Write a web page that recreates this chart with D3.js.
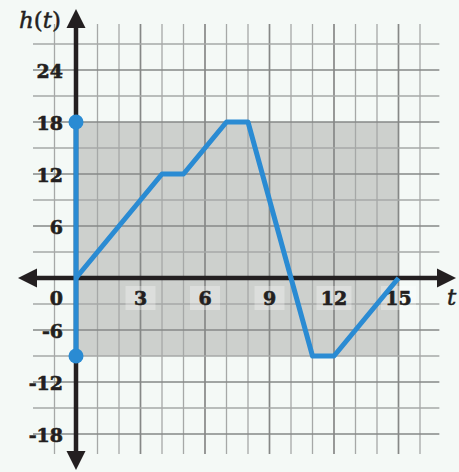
<!DOCTYPE html>
<html>
<head>
<meta charset="utf-8">
<script src="https://cdn.jsdelivr.net/npm/d3@7"></script>
<style>
  html, body { margin: 0; padding: 0; background: #f4f9f6; }
  svg { display: block; }
</style>
</head>
<body>
<svg id="chart" width="459" height="472"></svg>
<script>
// Piecewise-linear function h(t)
const tValues = [0, 4, 5, 7, 8, 11, 12, 15];
const hValues = [0, 12, 12, 18, 18, -9, -9, 0];
// Range of h shown on the vertical axis (closed endpoints)
const rangeEnds = [18, -9];
// Domain / range highlight box
const boxT = [0, 15];
const boxH = [-9, 18];
// Tick labels
const xTicks = [3, 6, 9, 12, 15];
const yTicks = [24, 18, 12, 6, -6, -12, -18];
// Grid extent
const gridT = [-2, 16.9];
const gridH = [-20.3, 29.3];

const W = 459, H = 472;
const svg = d3.select("#chart");

const x = d3.scaleLinear().domain([0, 15]).range([76, 398.5]);
const y = d3.scaleLinear().domain([0, 18]).range([278, 122]);

const blue = "#2a8bd3";
const ink = "#231f20";
const fontNum = "'DejaVu Serif', serif";

// highlight box
svg.append("rect")
  .attr("x", x(boxT[0])).attr("y", y(boxH[1]))
  .attr("width", x(boxT[1]) - x(boxT[0]))
  .attr("height", y(boxH[0]) - y(boxH[1]))
  .attr("fill", "#cdd0cd");

// grid: vertical lines every unit, darker every 3
const g = svg.append("g");
d3.range(-1, 17).forEach(t => {
  const major = t % 3 === 0;
  g.append("line")
    .attr("x1", x(t)).attr("x2", x(t))
    .attr("y1", y(gridH[1])).attr("y2", y(gridH[0]))
    .attr("stroke", major ? "#868887" : "#a6a8a7")
    .attr("stroke-width", major ? 1.7 : 1.3);
});
// horizontal lines every 3, darker every 6
d3.range(-18, 30, 3).forEach(h => {
  const major = h % 6 === 0;
  g.append("line")
    .attr("x1", x(gridT[0])).attr("x2", x(gridT[1]))
    .attr("y1", y(h)).attr("y2", y(h))
    .attr("stroke", major ? "#868887" : "#a6a8a7")
    .attr("stroke-width", major ? 1.7 : 1.3);
});

// axes with arrowheads
const axisW = 4.5;
svg.append("line")
  .attr("x1", 30).attr("x2", W - 14)
  .attr("y1", y(0)).attr("y2", y(0))
  .attr("stroke", ink).attr("stroke-width", axisW);
svg.append("line")
  .attr("x1", x(0)).attr("x2", x(0))
  .attr("y1", 22).attr("y2", H - 14)
  .attr("stroke", ink).attr("stroke-width", axisW);

function arrow(tipX, tipY, dir) {
  const L = 19, Hw = 9.5;
  let pts;
  if (dir === "left") pts = [[tipX, tipY], [tipX + L, tipY - Hw], [tipX + L, tipY + Hw]];
  if (dir === "right") pts = [[tipX, tipY], [tipX - L, tipY - Hw], [tipX - L, tipY + Hw]];
  if (dir === "up") pts = [[tipX, tipY], [tipX - Hw, tipY + L], [tipX + Hw, tipY + L]];
  if (dir === "down") pts = [[tipX, tipY], [tipX - Hw, tipY - L], [tipX + Hw, tipY - L]];
  svg.append("path").attr("d", "M" + pts.join("L") + "Z").attr("fill", ink);
}
arrow(18, y(0), "left");
arrow(456, y(0), "right");
arrow(x(0), 9, "up");
arrow(x(0), 470, "down");

function numLabel(sel) {
  return sel.attr("font-family", fontNum).attr("font-weight", "bold")
    .attr("font-size", 19).attr("fill", ink)
    .attr("stroke", ink).attr("stroke-width", 0.6)
    .attr("dominant-baseline", "central");
}

// x tick labels with light plates
xTicks.forEach(t => {
  const cx = x(t);
  const lw = String(t).length === 1 ? 30 : 35;
  svg.append("rect")
    .attr("x", cx - lw / 2).attr("y", 286)
    .attr("width", lw).attr("height", 24)
    .attr("fill", "#ffffff").attr("fill-opacity", 0.3);
  numLabel(svg.append("text"))
    .attr("x", cx).attr("y", 298)
    .attr("text-anchor", "middle")
    .text(t);
});
numLabel(svg.append("text"))
  .attr("x", 63).attr("y", 298)
  .attr("text-anchor", "end")
  .text("0");

// y tick labels
yTicks.forEach(h => {
  numLabel(svg.append("text"))
    .attr("x", 63).attr("y", y(h) + 1)
    .attr("text-anchor", "end")
    .text(h);
});

// axis titles
const hLab = svg.append("text")
  .attr("x", 19).attr("y", 28)
  .attr("font-family", fontNum).attr("font-style", "italic")
  .attr("font-size", 23).attr("fill", ink)
  .attr("stroke", ink).attr("stroke-width", 0.5);
hLab.append("tspan").text("h");
hLab.append("tspan").attr("font-style", "normal").text("(");
hLab.append("tspan").text("t");
hLab.append("tspan").attr("font-style", "normal").text(")");

svg.append("text")
  .attr("x", 447).attr("y", 305)
  .attr("font-family", fontNum).attr("font-style", "italic")
  .attr("font-size", 23).attr("fill", ink)
  .attr("stroke", ink).attr("stroke-width", 0.5)
  .text("t");

// range segment on the vertical axis
svg.append("line")
  .attr("x1", x(0)).attr("x2", x(0))
  .attr("y1", y(rangeEnds[0])).attr("y2", y(rangeEnds[1]))
  .attr("stroke", blue).attr("stroke-width", 5);

// function graph
const pts = tValues.map((t, i) => [t, hValues[i]]);
svg.append("path")
  .datum(pts)
  .attr("d", d3.line().x(d => x(d[0])).y(d => y(d[1])))
  .attr("fill", "none")
  .attr("stroke", blue).attr("stroke-width", 5)
  .attr("stroke-linejoin", "round");

// endpoints
rangeEnds.forEach(h => {
  svg.append("circle")
    .attr("cx", x(0)).attr("cy", y(h)).attr("r", 7.5)
    .attr("fill", blue);
});
</script>
</body>
</html>
